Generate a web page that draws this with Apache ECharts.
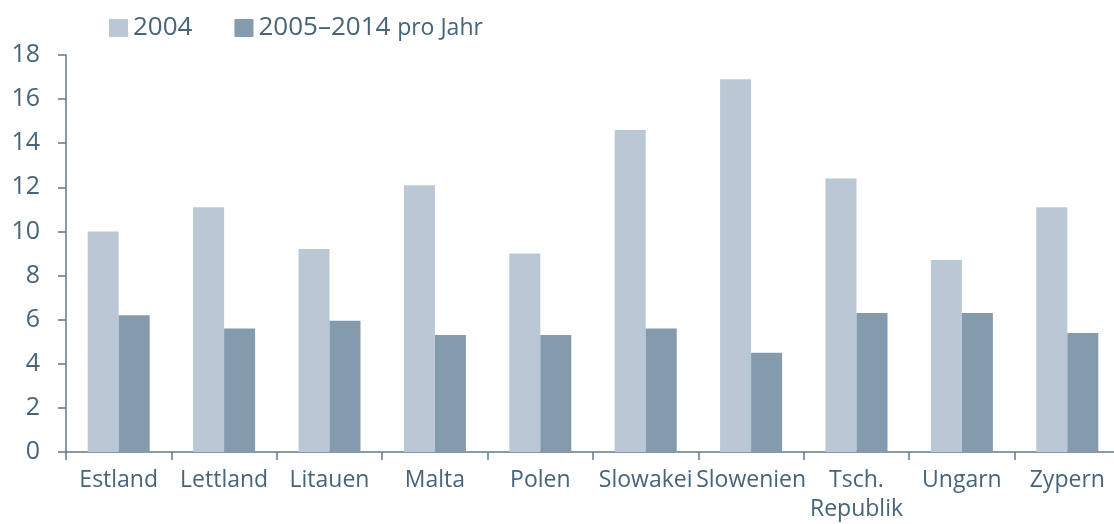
<!DOCTYPE html>
<html>
<head>
<meta charset="utf-8">
<script src="https://cdn.jsdelivr.net/npm/echarts@6/dist/echarts.min.js"></script>
<style>
  html, body { margin: 0; padding: 0; background: #fff; overflow: hidden; }
  #chart { width: 1124px; height: 524px; }
</style>
</head>
<body>
<div id="chart"></div>
<script>
// Länder (x-Achse)
const countries = ['Estland', 'Lettland', 'Litauen', 'Malta', 'Polen', 'Slowakei', 'Slowenien', 'Tsch.\nRepublik', 'Ungarn', 'Zypern']
// Werte 2004
const values2004 = [10.0, 11.1, 9.2, 12.1, 9.0, 14.6, 16.9, 12.4, 8.7, 11.1]
// Werte 2005–2014 pro Jahr
const valuesPerYear = [6.2, 5.6, 5.95, 5.3, 5.3, 5.6, 4.5, 6.3, 6.3, 5.4]
// y-Achse
const yTicks = [0, 2, 4, 6, 8, 10, 12, 14, 16, 18]

const textColor = '#46647a'
const axisColor = '#5f7a8e'
const fontFamily = '"Open Sans", "Noto Sans", sans-serif'

const chart = echarts.init(document.getElementById('chart'))

const option = {
  animation: false,
  textStyle: { fontFamily: fontFamily, color: textColor },
  legend: {
    left: 104,
    top: 10,
    itemWidth: 19,
    itemHeight: 18,
    itemGap: 42,
    icon: 'rect',
    textStyle: {
      color: textColor,
      fontSize: 26,
      fontFamily: fontFamily,
      rich: {
        small: { fontSize: 23, color: textColor, fontFamily: fontFamily }
      }
    },
    formatter: function (name) {
      if (name === '2005–2014 pro Jahr') return '2005–2014 {small|pro Jahr}'
      return name
    },
    data: ['2004', '2005–2014 pro Jahr']
  },
  grid: {
    left: 66,
    top: 55,
    width: 1054,
    height: 397,
    containLabel: false
  },
  xAxis: {
    type: 'category',
    data: countries,
    axisLine: { lineStyle: { color: axisColor, width: 1.5 } },
    axisTick: { show: true, length: 8, alignWithLabel: false, lineStyle: { color: axisColor, width: 1.5 } },
    axisLabel: { color: textColor, fontSize: 23, margin: 14, lineHeight: 29, interval: 0 }
  },
  yAxis: {
    type: 'value',
    min: yTicks[0],
    max: yTicks[yTicks.length - 1],
    interval: 2,
    splitLine: { show: false },
    axisLine: { show: true, lineStyle: { color: axisColor, width: 1.5 } },
    axisTick: { show: true, length: 8, lineStyle: { color: axisColor, width: 1.5 } },
    axisLabel: { color: textColor, fontSize: 25, margin: 26 }
  },
  series: [
    {
      name: '2004',
      type: 'bar',
      data: values2004,
      barWidth: 31,
      barGap: '0%',
      itemStyle: { color: '#bac8d5' }
    },
    {
      name: '2005–2014 pro Jahr',
      type: 'bar',
      data: valuesPerYear,
      barWidth: 31,
      barGap: '0%',
      itemStyle: { color: '#849aad' }
    }
  ]
}

chart.setOption(option)
</script>
</body>
</html>
